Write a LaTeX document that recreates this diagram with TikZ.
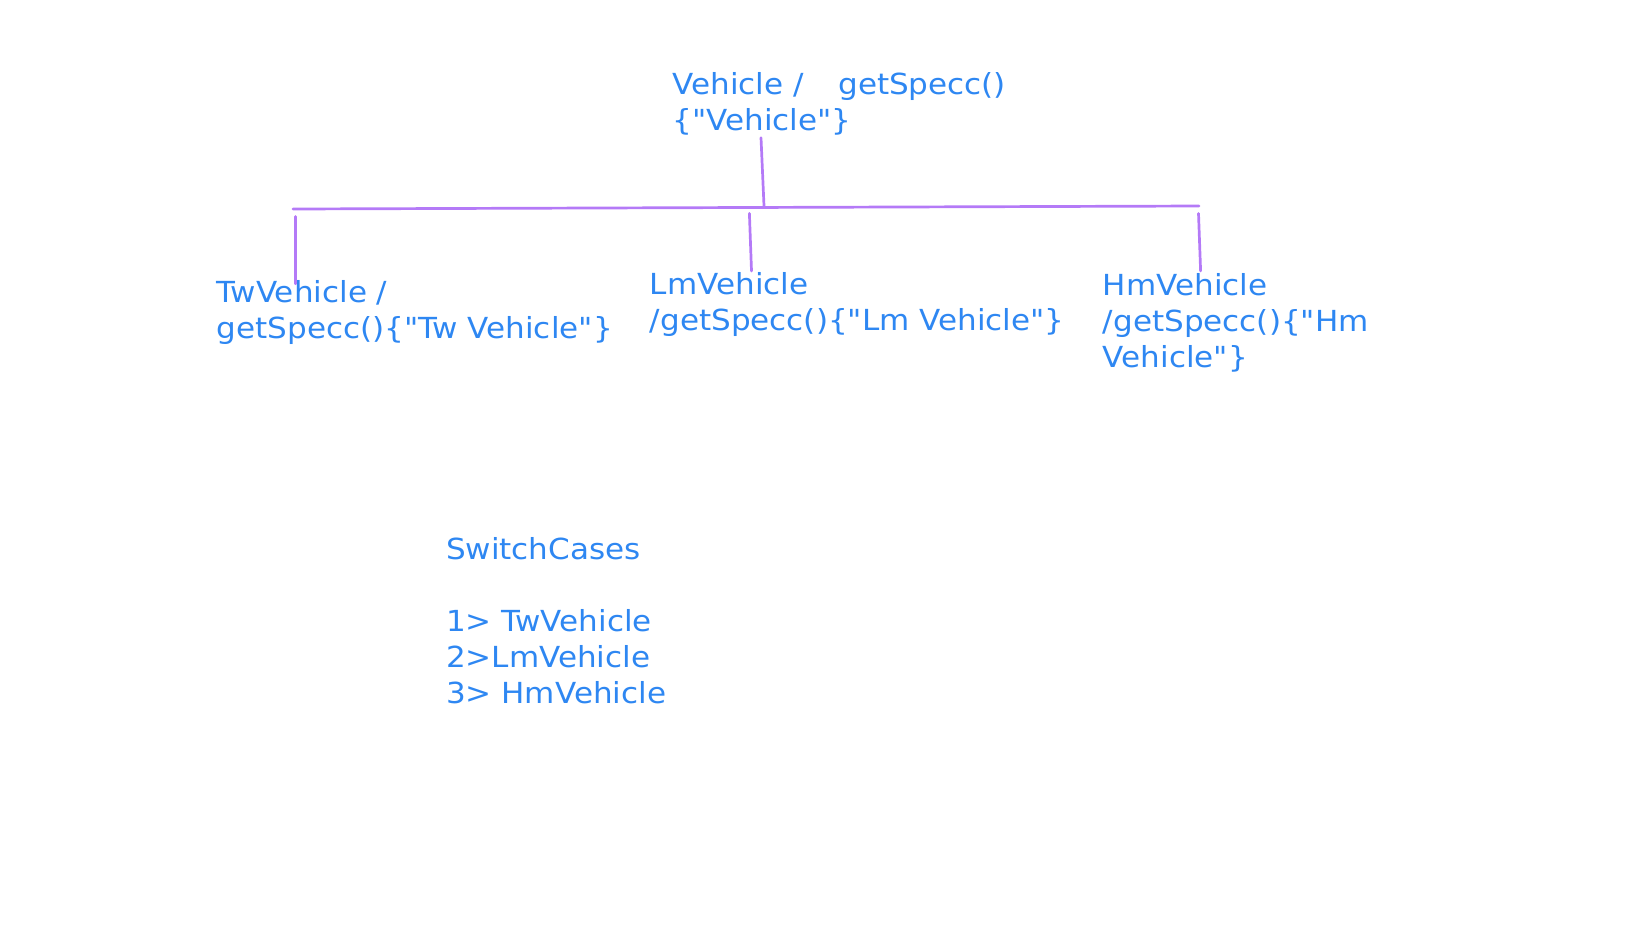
\documentclass[tikz,border=0pt]{standalone}
\usepackage{fontspec}
\setmainfont{DejaVu Sans}[FakeStretch=1.07, Ligatures=TeXOff]
\definecolor{txtblue}{HTML}{2E87F2}
\definecolor{wirepurple}{HTML}{B47AF7}

\begin{document}
\begin{tikzpicture}[
  x=0.5pt, y=-0.5pt,
  lbl/.style={anchor=base west, inner sep=0pt, align=left, text=txtblue,
    font=\fontsize{14.5pt}{17.9pt}\selectfont},
  wire/.style={draw=wirepurple, line width=1.35pt, line cap=round}
]
\useasboundingbox (0,0) rectangle (1648,927);

\node [lbl] (vehicle) at (672,130) {Vehicle /\hspace{17.3pt}getSpecc()\\\{"Vehicle"\}};
\node [lbl] (twveh) at (216.5,338.5) {TwVehicle /\\getSpecc()\{"Tw Vehicle"\}};
\node [lbl] (lmveh) at (649.5,330) {LmVehicle\\/getSpecc()\{"Lm Vehicle"\}};
\node [lbl] (hmveh) at (1102.5,367) {HmVehicle\\/getSpecc()\{"Hm\\Vehicle"\}};
\node [lbl] (cases) at (445.6,703) {SwitchCases\\[17.9pt]1> TwVehicle\\2>LmVehicle\\3> HmVehicle};

\coordinate (rootTop) at (761,137.7);
\coordinate (rootJoin) at (764,206);
\coordinate (busL) at (293,209);
\coordinate (busR) at (1199,206);
\coordinate (twTop) at (295.3,216.5);
\coordinate (twEnd) at (295.3,283.8);
\coordinate (lmTop) at (749.4,213.4);
\coordinate (lmEnd) at (751.5,271);
\coordinate (hmTop) at (1198.5,213.4);
\coordinate (hmEnd) at (1200.6,271);

\draw [wire] (rootTop) -- (rootJoin);
\draw [wire] (busL) -- (busR);
\draw [wire] (twTop) -- (twEnd);
\draw [wire] (lmTop) -- (lmEnd);
\draw [wire] (hmTop) -- (hmEnd);
\end{tikzpicture}
\end{document}
